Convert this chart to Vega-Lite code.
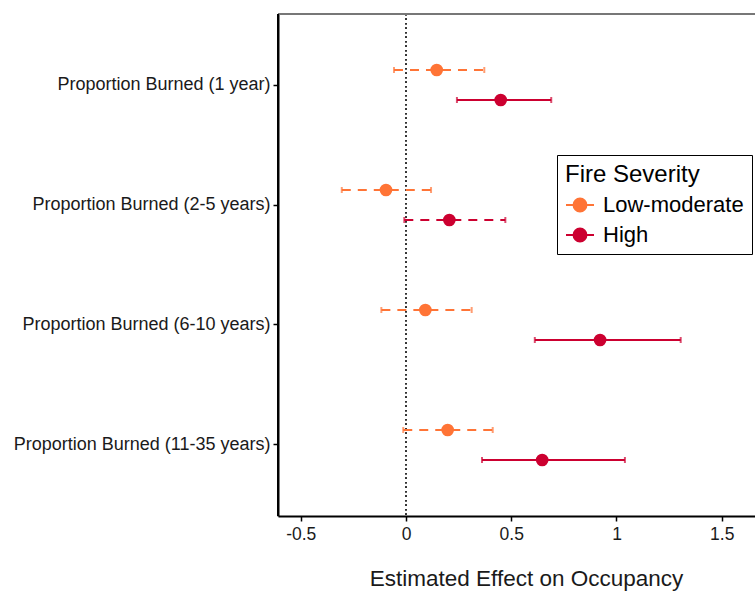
{
  "$schema": "https://vega.github.io/schema/vega-lite/v6.json",
  "width": 477,
  "height": 502,
  "autosize": {"type": "none"},
  "padding": {"left": 278, "top": 14, "right": 0, "bottom": 76},
  "background": "white",
  "config": {
    "font": "Liberation Sans",
    "view": {"stroke": null},
    "axis": {"grid": false, "labelColor": "#1a1a1a", "titleColor": "#1a1a1a", "domainColor": "black", "tickColor": "black"}
  },
  "data": {
    "values": [
      {"term": "Proportion Burned (1 year)", "severity": "Low-moderate", "est": 0.146, "low": -0.057, "high": 0.372, "ci_includes_zero": true},
      {"term": "Proportion Burned (1 year)", "severity": "High", "est": 0.450, "low": 0.242, "high": 0.690, "ci_includes_zero": false},
      {"term": "Proportion Burned (2-5 years)", "severity": "Low-moderate", "est": -0.095, "low": -0.305, "high": 0.119, "ci_includes_zero": true},
      {"term": "Proportion Burned (2-5 years)", "severity": "High", "est": 0.206, "low": -0.008, "high": 0.472, "ci_includes_zero": true},
      {"term": "Proportion Burned (6-10 years)", "severity": "Low-moderate", "est": 0.092, "low": -0.117, "high": 0.312, "ci_includes_zero": true},
      {"term": "Proportion Burned (6-10 years)", "severity": "High", "est": 0.922, "low": 0.612, "high": 1.305, "ci_includes_zero": false},
      {"term": "Proportion Burned (11-35 years)", "severity": "Low-moderate", "est": 0.198, "low": -0.013, "high": 0.412, "ci_includes_zero": true},
      {"term": "Proportion Burned (11-35 years)", "severity": "High", "est": 0.647, "low": 0.361, "high": 1.040, "ci_includes_zero": false}
    ]
  },
  "encoding": {
    "y": {
      "field": "term", "type": "nominal",
      "sort": ["Proportion Burned (1 year)", "Proportion Burned (2-5 years)", "Proportion Burned (6-10 years)", "Proportion Burned (11-35 years)"],
      "scale": {"type": "band", "paddingInner": 0, "paddingOuter": 0.0917},
      "axis": {"title": null, "labelFontSize": 18, "labelPadding": 3, "tickSize": 5, "tickWidth": 1.5, "domainWidth": 2, "labelLimit": 300}
    },
    "yOffset": {
      "field": "severity", "type": "nominal",
      "sort": ["Low-moderate", "High"],
      "scale": {"paddingInner": 0, "paddingOuter": 1}
    }
  },
  "layer": [
    {
      "mark": {"type": "rule", "color": "#333333", "strokeDash": [1.2, 3.3], "strokeWidth": 1.3},
      "encoding": {"x": {"datum": 0, "type": "quantitative"}, "y": null, "yOffset": null}
    },
    {
      "mark": {"type": "rule", "strokeWidth": 2},
      "encoding": {
        "x": {
          "field": "low", "type": "quantitative",
          "scale": {"domain": [-0.608, 1.658], "nice": false, "zero": false},
          "axis": {"title": "Estimated Effect on Occupancy", "values": [-0.5, 0, 0.5, 1, 1.5], "labelExpr": "datum.value < 0 ? '-' + format(-datum.value, '~g') : format(datum.value, '~g')", "labelFontSize": 17.5, "titleFontSize": 22.5, "titleFontWeight": "normal", "titlePadding": 25, "titleX": 248, "tickSize": 5, "tickWidth": 1.5, "domainWidth": 2, "labelPadding": 4, "labelFlush": false}
        },
        "x2": {"field": "high"},
        "color": {
          "field": "severity", "type": "nominal",
          "sort": ["Low-moderate", "High"],
          "scale": {"domain": ["Low-moderate", "High"], "range": ["#FF7436", "#CC0030"]},
          "legend": {
            "title": "Fire Severity",
            "orient": "none", "legendX": 279, "legendY": 141,
            "titleFontSize": 24, "titleFontWeight": "normal", "titleColor": "black",
            "labelFontSize": 22, "labelColor": "black",
            "symbolSize": 784,
            "symbolType": "M-1,0L1,0M0.46,0A0.46,0.46,0,1,1,-0.46,0A0.46,0.46,0,1,1,0.46,0Z",
            "symbolStrokeWidth": 2,
            "strokeColor": "black", "fillColor": "white", "padding": 8,
            "rowPadding": 4, "labelOffset": 8, "titlePadding": 3,
            "encode": {
              "symbols": {
                "update": {
                  "shape": {"value": "M-1,0L1,0M0.46,0A0.46,0.46,0,1,1,-0.46,0A0.46,0.46,0,1,1,0.46,0Z"},
                  "size": {"value": 784},
                  "stroke": {"scale": "color", "field": "value"},
                  "fill": {"scale": "color", "field": "value"},
                  "strokeWidth": {"value": 2},
                  "opacity": {"value": 1},
                  "fillOpacity": {"value": 1},
                  "strokeOpacity": {"value": 1}
                }
              }
            }
          }
        },
        "strokeDash": {
          "field": "ci_includes_zero", "type": "nominal",
          "scale": {"domain": [true, false], "range": [[9, 7], [1, 0]]},
          "legend": null
        }
      }
    },
    {
      "mark": {"type": "tick", "thickness": 2, "size": 6},
      "encoding": {
        "x": {"field": "low", "type": "quantitative"},
        "color": {"field": "severity", "type": "nominal"}
      }
    },
    {
      "mark": {"type": "tick", "thickness": 2, "size": 6},
      "encoding": {
        "x": {"field": "high", "type": "quantitative"},
        "color": {"field": "severity", "type": "nominal"}
      }
    },
    {
      "mark": {"type": "point", "filled": true, "opacity": 1, "size": 160},
      "encoding": {
        "x": {"field": "est", "type": "quantitative"},
        "color": {"field": "severity", "type": "nominal"}
      }
    },
    {
      "mark": {"type": "rule", "color": "#777777", "strokeWidth": 2},
      "encoding": {"y": {"value": 0}, "yOffset": null, "x": {"value": 0}, "x2": {"value": 477}}
    },
    {
      "mark": {"type": "rule", "color": "black", "strokeWidth": 2},
      "encoding": {"y": {"value": 0}, "yOffset": null, "y2": {"value": 502}, "x": {"value": 0}}
    }
  ]
}
